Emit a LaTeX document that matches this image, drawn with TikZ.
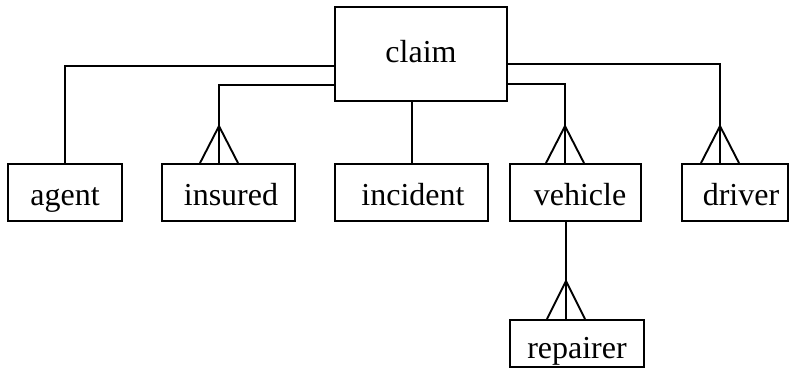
\documentclass[tikz,border=0pt]{standalone}
\usepackage{fontspec}
\setmainfont{Liberation Serif}
\begin{document}
\begin{tikzpicture}[x=1pt,y=-1pt,line width=1.9pt,
  ent/.style={draw,rectangle,inner sep=0pt,font=\fontsize{32}{36}\selectfont,text depth=0pt},
  link/.style={draw},
]
\useasboundingbox (0,0) rectangle (790,378);
\node[ent,minimum width=172pt,minimum height=94pt,text height=16pt] (claim) at (421,54) {claim};
\node[ent,minimum width=114pt,minimum height=57pt,text height=25pt] (agent) at (65,192.5) {agent};
\node[ent,minimum width=133pt,minimum height=57pt,text height=25pt] (insured) at (228.5,192.5) {\hspace*{5pt}insured};
\node[ent,minimum width=153pt,minimum height=57pt,text height=25pt] (incident) at (411.5,192.5) {\hspace*{3pt}incident};
\node[ent,minimum width=131pt,minimum height=57pt,text height=25pt] (vehicle) at (575.5,192.5) {\hspace*{9pt}vehicle};
\node[ent,minimum width=106pt,minimum height=57pt,text height=25pt] (driver) at (735,192.5) {\hspace*{12pt}driver};
\node[ent,minimum width=134pt,minimum height=47pt,text height=29pt] (repairer) at (577,343.5) {repairer};
% connectors
\draw[link] ([yshift=-12pt]claim.west) -| (agent.north);
\coordinate (fi) at ([xshift=-9.5pt]insured.north);
\draw[link] ([yshift=-31pt]claim.west) -| (fi);
\coordinate (fn) at ([xshift=0.5pt]incident.north);
\draw[link] (claim.south -| fn) -- (fn);
\coordinate (fv) at ([xshift=-10.5pt]vehicle.north);
\draw[link] ([yshift=-30pt]claim.east) -| (fv);
\coordinate (fd) at ([xshift=-15pt]driver.north);
\draw[link] ([yshift=-10pt]claim.east) -| (fd);
\coordinate (fr) at ([xshift=-11pt]repairer.north);
\draw[link] (vehicle.south -| fr) -- (fr);
% crow's feet
\foreach \f in {fi,fv,fd}
  \draw ([xshift=-19pt]\f) -- ([yshift=37pt]\f) -- ([xshift=19pt]\f);
\draw ([xshift=-19pt]fr) -- ([yshift=38pt]fr) -- ([xshift=19pt]fr);
\end{tikzpicture}
\end{document}
